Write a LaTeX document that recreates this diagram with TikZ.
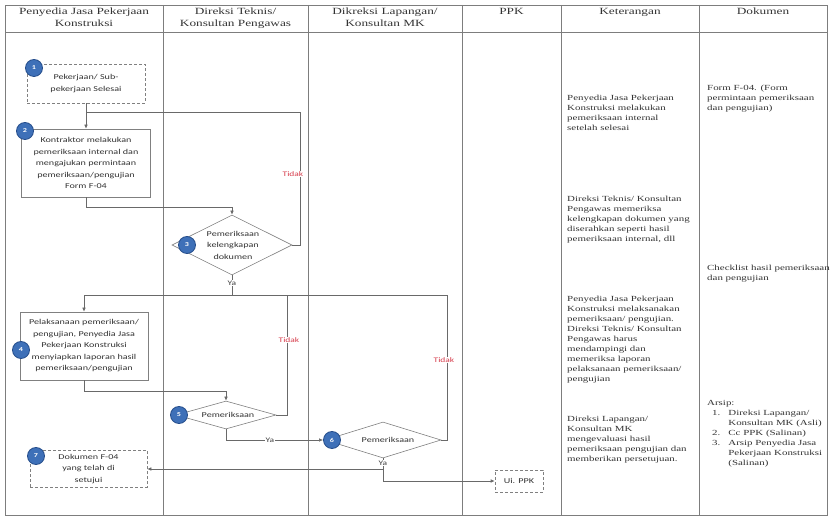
\documentclass[tikz,border=0pt]{standalone}
\usepackage{fontspec}
\setmainfont{Liberation Serif}
\newfontfamily\hdrfont[FakeStretch=1.4]{Liberation Serif}
\newfontfamily\flowfont[FakeStretch=1.35]{Carlito}
\usetikzlibrary{shapes.geometric,arrows.meta}
\definecolor{gridline}{RGB}{125,125,125}
\definecolor{conn}{RGB}{105,105,105}
\definecolor{badgeblue}{RGB}{62,112,184}
\definecolor{badgeedge}{RGB}{38,78,140}
\definecolor{nored}{RGB}{215,60,75}

\begin{document}
\begin{tikzpicture}[x=1pt,y=-1pt,
  grid/.style={draw=gridline, line width=0.9pt},
  hdr/.style={font=\hdrfont\fontsize{9.5}{11.5}\selectfont, align=center, anchor=north, inner sep=0pt, text=black!80},
  note/.style={font=\hdrfont\fontsize{7.8}{10}\selectfont, align=left, anchor=north west, inner sep=0pt, text=black!80},
  stepbox/.style={draw=gray, line width=0.6pt, align=center, inner sep=1pt, font=\flowfont\fontsize{7.5}{11.5}\selectfont, text=black!80},
  decision/.style={shape=diamond, draw=gray, line width=0.6pt, inner sep=0pt},
  dtext/.style={align=center, inner sep=0pt, font=\flowfont\fontsize{7.5}{11.5}\selectfont, text=black!80},
  badge/.style={circle, fill=badgeblue, draw=badgeedge, line width=0.8pt, minimum size=17pt, inner sep=0pt, text=white, font=\flowfont\fontsize{6}{6}\selectfont\bfseries},
  link/.style={draw=conn, line width=0.6pt},
  arr/.style={-{Latex[length=4pt,width=3.5pt]}},
  yes/.style={fill=white, inner sep=1pt, font=\flowfont\fontsize{7}{8}\selectfont, text=black!75},
  no/.style={fill=white, inner sep=1pt, font=\flowfont\fontsize{7}{8}\selectfont, text=nored},
]
\useasboundingbox (0,0) rectangle (831,518);

% ---- swimlane table ----
\draw[grid] (5,5) rectangle (827,515);
\draw[grid] (5,32) -- (827,32);
\foreach \xx in {163,308,462,561,699} \draw[grid] (\xx,5) -- (\xx,515);

\node[hdr] (h1) at (84,8) {Penyedia Jasa Pekerjaan\\Konstruksi};
\node[hdr] (h2) at (235.5,8) {Direksi Teknis/\\Konsultan Pengawas};
\node[hdr] (h3) at (385,8) {Dikreksi Lapangan/\\Konsultan MK};
\node[hdr] (h4) at (511.5,8) {PPK};
\node[hdr] (h5) at (630,8) {Keterangan};
\node[hdr] (h6) at (763,8) {Dokumen};

% ---- process steps ----
\node[stepbox, densely dashed, minimum width=118pt, minimum height=39pt] (b1) at (86,83.5) {Pekerjaan/ Sub-\\pekerjaan Selesai};
\node[stepbox, minimum width=129pt, minimum height=68pt] (b2) at (86,163) {Kontraktor melakukan\\pemeriksaan internal dan\\mengajukan permintaan\\pemeriksaan/pengujian\\Form F-04};
\node[decision, minimum width=120pt, minimum height=60pt] (d3) at (232,245) {};
\node[dtext] (d3t) at (233,245) {Pemeriksaan\\kelengkapan\\dokumen};
\node[stepbox, minimum width=128pt, minimum height=68pt] (b4) at (84,346) {Pelaksanaan pemeriksaan/\\pengujian, Penyedia Jasa\\Pekerjaan Konstruksi\\menyiapkan laporan hasil\\pemeriksaan/pengujian};
\node[decision, minimum width=100pt, minimum height=28pt] (d5) at (226,415) {};
\node[dtext] (d5t) at (228,415) {Pemeriksaan};
\node[decision, minimum width=116pt, minimum height=36pt] (d6) at (383,440) {};
\node[dtext] (d6t) at (388,440) {Pemeriksaan};
\node[stepbox, densely dashed, minimum width=117pt, minimum height=37pt] (b7) at (88.5,469) {Dokumen F-04\\yang telah di\\setujui};
\node[stepbox, densely dashed, minimum width=48pt, minimum height=22pt] (ppk) at (519,481) {Ui. PPK};

% ---- connectors ----
\coordinate (j1) at (86,112);
\coordinate (t1) at (300,112);
\coordinate (k2) at (232,207);
\coordinate (j3) at (232,295);
\coordinate (t2) at (287,295);
\coordinate (t3) at (447,295);
\coordinate (k4) at (226,391);

\draw[link, arr] (b1.south) -- (b2.north);
\draw[link] (d3.east) -| (t1) -- (j1);
\draw[link, arr] (b2.south) |- (k2) -- (d3.north);
\draw[link, arr] (d3.south) -- (j3) -| (b4.north);
\draw[link] (d5.east) -| (t2);
\draw[link] (d6.east) -| (t3) -- (j3);
\draw[link, arr] (b4.south) |- (k4) -- (d5.north);

% ---- step numbers ----
\node[badge] (n1) at (34,68) {1};
\node[badge] (n2) at (25,131) {2};
\node[badge] (n3) at (187,245) {3};
\node[badge] (n4) at (21,350) {4};
\node[badge] (n5) at (179,415) {5};
\node[badge] (n6) at (332,440) {6};
\node[badge] (n7) at (36,456) {7};

\draw[link, arr] (d5.south) |- (n6.west);
\draw[link, arr] (d6.south) |- (b7.east);
\draw[link, arr] (d6.south) |- (ppk.west);

% ---- branch labels ----
\node[no] (no1) at (293,174) {Tidak};
\node[no] (no2) at (289,340) {Tidak};
\node[no] (no3) at (444,360) {Tidak};
\node[yes] (ya3) at (232,283) {Ya};
\node[yes] (ya5) at (270,440) {Ya};
\node[yes] (ya6) at (383,463) {Ya};

% ---- Keterangan ----
\node[note] (k1) at (567,95) {Penyedia Jasa Pekerjaan\\Konstruksi melakukan\\pemeriksaan internal\\setelah selesai};
\node[note] (k2t) at (567,196) {Direksi Teknis/ Konsultan\\Pengawas memeriksa\\kelengkapan dokumen yang\\diserahkan seperti hasil\\pemeriksaan internal, dll};
\node[note] (k3t) at (567,296) {Penyedia Jasa Pekerjaan\\Konstruksi melaksanakan\\pemeriksaan/ pengujian.\\Direksi Teknis/ Konsultan\\Pengawas harus\\mendampingi dan\\memeriksa laporan\\pelaksanaan pemeriksaan/\\pengujian};
\node[note] (k4t) at (567,416) {Direksi Lapangan/\\Konsultan MK\\mengevaluasi hasil\\pemeriksaan pengujian dan\\memberikan persetujuan.};

% ---- Dokumen ----
\node[note] (doc1) at (707,85) {Form F-04. (Form\\permintaan pemeriksaan\\dan pengujian)};
\node[note] (doc2) at (707,265) {Checklist hasil pemeriksaan\\dan pengujian};
\node[note] (doc3) at (707,398) {\renewcommand\arraystretch{1}%
\begin{tabular}{@{\hspace{5pt}}r@{\hspace{8pt}}l@{}}
\multicolumn{2}{@{}l}{Arsip:}\\
1. & Direksi Lapangan/\\
   & Konsultan MK (Asli)\\
2. & Cc PPK (Salinan)\\
3. & Arsip Penyedia Jasa\\
   & Pekerjaan Konstruksi\\
   & (Salinan)
\end{tabular}};
\end{tikzpicture}
\end{document}
